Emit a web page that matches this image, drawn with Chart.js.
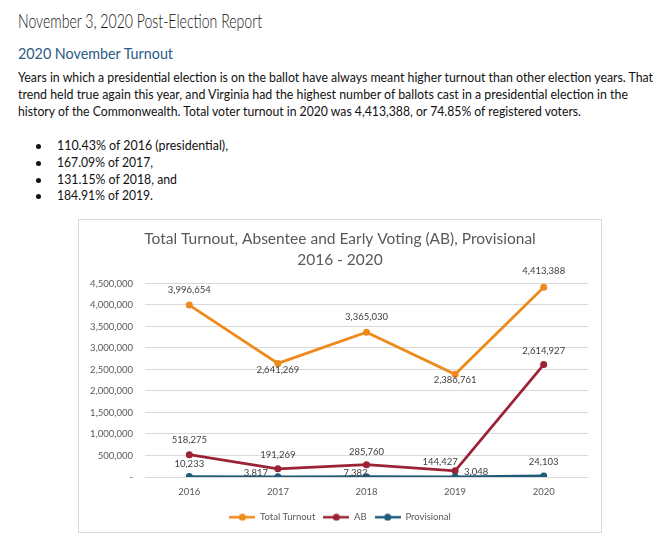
<!DOCTYPE html>
<html><head><meta charset="utf-8">
<script src="https://cdn.jsdelivr.net/npm/chart.js@4.4.1/dist/chart.umd.min.js"></script>
<style>
html,body{margin:0;padding:0;background:#fff;}
body{width:672px;height:553px;overflow:hidden;position:relative;font-family:Lato,"Open Sans",sans-serif;color:#111;}
.t{position:absolute;left:18px;white-space:nowrap;transform-origin:0 0;line-height:1;}
.b{position:absolute;left:36px;width:5px;height:5px;border-radius:50%;background:#111;}
#box{position:absolute;left:78px;top:219px;width:522px;height:312px;border:1px solid #d9d9d9;background:#fff;}
</style></head><body>
<div class="t" id="h1" style="top:11px;font-size:19px;font-weight:300;color:#111" data-w="244">November 3, 2020 Post-Election Report</div>
<div class="t" style="top:46px;font-size:15px;color:#2b5b86" data-w="155">2020 November Turnout</div>
<div class="t" style="top:71px;font-size:13px" data-w="635">Years in which a presidential election is on the ballot have always meant higher turnout than other election years. That</div>
<div class="t" style="top:88px;font-size:13px" data-w="610">trend held true again this year, and Virginia had the highest number of ballots cast in a presidential election in the</div>
<div class="t" style="top:105px;font-size:13px" data-w="563">history of the Commonwealth. Total voter turnout in 2020 was 4,413,388, or 74.85% of registered voters.</div>
<div class="b" style="top:144px"></div><div class="t" style="left:57px;top:139px;font-size:13px" data-w="171">110.43% of 2016 (presidential),</div>
<div class="b" style="top:161px"></div><div class="t" style="left:57px;top:156px;font-size:13px" data-w="96">167.09% of 2017,</div>
<div class="b" style="top:178px"></div><div class="t" style="left:57px;top:173px;font-size:13px" data-w="120">131.15% of 2018, and</div>
<div class="b" style="top:194px"></div><div class="t" style="left:57px;top:189px;font-size:13px" data-w="96">184.91% of 2019.</div>
<div id="box"><canvas id="c"></canvas></div>
<script>
// ---- data ----
const years = ['2016', '2017', '2018', '2019', '2020'];
const totalTurnout = [3996654, 2641269, 3365030, 2386761, 4413388];
const absentee = [518275, 191269, 285760, 144427, 2614927];
const provisional = [10233, 3817, 7382, 3048, 24103];
const yMin = 0, yMax = 4500000, yStep = 500000;
const seriesNames = ['Total Turnout', 'AB', 'Provisional'];
const chartTitle = ['Total Turnout, Absentee and Early Voting (AB), Provisional', '2016 - 2020'];

// ---- fit page text widths ----
document.querySelectorAll('.t').forEach(el => {
  const w = +el.dataset.w, m = el.getBoundingClientRect().width;
  if (w && m) el.style.transform = 'scaleX(' + (w / m) + ')';
});

// ---- style ----
const colors = ['#ee8a1b', '#9b2335', '#1f5a78'];
const labelOffsets = [
  [[0, -15], [0, 7], [0, -15], [0, 6], [0, -16]],
  [[0, -15], [0, -14], [0, -13], [-15, -9], [0, -14]],
  [[0, -13], [-22, -4], [-11, -4], [21, -5], [0, -14]]
];
const fmt = v => v.toLocaleString('en-US');

function legendIcon(color) {
  const c = document.createElement('canvas');
  c.width = 26; c.height = 8;
  const x = c.getContext('2d');
  x.strokeStyle = color; x.lineWidth = 2.5;
  x.beginPath(); x.moveTo(0, 4); x.lineTo(26, 4); x.stroke();
  x.fillStyle = color; x.beginPath(); x.arc(13, 4, 3.5, 0, Math.PI * 2); x.fill();
  return c;
}

const dataLabels = {
  id: 'dataLabels',
  beforeDraw(chart) {
    // let y tick labels extend past the narrow axis box
    chart.scales.y._computeLabelArea = () => undefined;
  },
  afterDatasetsDraw(chart) {
    const ctx = chart.ctx;
    ctx.save();
    ctx.font = '9.5px Lato, sans-serif';
    ctx.fillStyle = '#404040';
    ctx.textAlign = 'center';
    ctx.textBaseline = 'middle';
    chart.data.datasets.forEach((ds, i) => {
      chart.getDatasetMeta(i).data.forEach((pt, j) => {
        const [dx, dy] = labelOffsets[i][j];
        ctx.fillText(fmt(ds.data[j]), pt.x + dx, pt.y + dy);
      });
    });
    ctx.restore();
  }
};

const series = [totalTurnout, absentee, provisional];
new Chart(document.getElementById('c'), {
  type: 'line',
  data: {
    labels: years,
    datasets: series.map((d, i) => ({
      label: seriesNames[i],
      data: d,
      borderColor: colors[i],
      backgroundColor: colors[i],
      borderWidth: 2.75,
      pointRadius: 3.5,
      pointBorderWidth: 0,
      pointBackgroundColor: colors[i],
      tension: 0,
      order: 3 - i
    }))
  },
  options: {
    responsive: true,
    maintainAspectRatio: false,
    animation: false,
    events: [],
    layout: { padding: { left: 13, right: 13, top: 0, bottom: 0 } },
    plugins: {
      title: {
        display: true,
        text: chartTitle,
        color: '#595959',
        font: { family: 'Lato, sans-serif', size: 15.5, weight: 'normal', lineHeight: 1.37 },
        padding: { top: 8, bottom: 13 }
      },
      legend: {
        position: 'bottom',
        labels: {
          usePointStyle: true,
          pointStyleWidth: 26,
          boxHeight: 8,
          padding: 8,
          color: '#595959',
          font: { family: 'Lato, sans-serif', size: 9.5 },
          generateLabels(chart) {
            return chart.data.datasets.map((ds, i) => ({
              text: ds.label, fillStyle: colors[i], strokeStyle: colors[i],
              pointStyle: legendIcon(colors[i]), datasetIndex: i, hidden: false, lineWidth: 0,
              fontColor: '#595959'
            }));
          }
        }
      },
      tooltip: { enabled: false }
    },
    scales: {
      x: {
        offset: true,
        grid: { display: false, drawTicks: false },
        border: { display: false },
        afterFit(s) { s.height = 27.5; },
        ticks: { color: '#595959', font: { family: 'Lato, sans-serif', size: 9.5 }, padding: 9 }
      },
      y: {
        min: yMin, max: yMax,
        grid: { color: '#d9d9d9', lineWidth: 1, drawTicks: false },
        border: { display: false },
        afterFit(s) { s.width = 53; },
        ticks: {
          stepSize: yStep,
          padding: 12,
          color: '#595959',
          font: { family: 'Lato, sans-serif', size: 9.5 },
          callback: v => v === 0 ? '-' : fmt(v)
        }
      }
    }
  },
  plugins: [dataLabels]
});
</script>
</body></html>
